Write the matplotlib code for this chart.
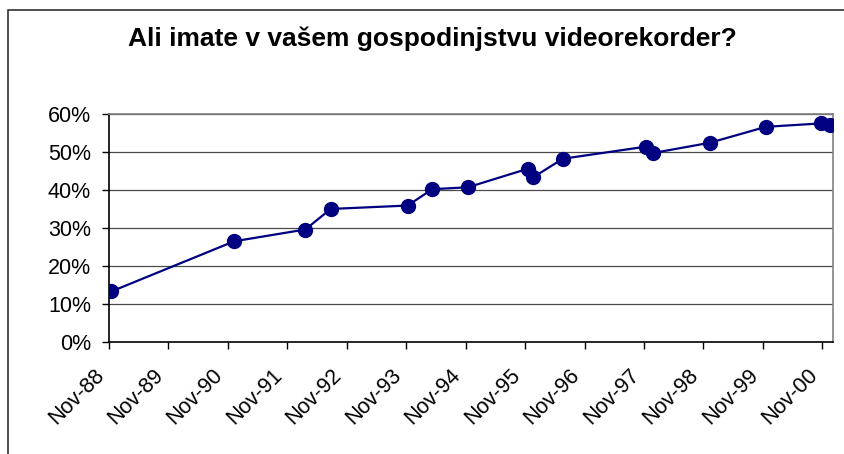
import matplotlib
matplotlib.use("Agg")
import matplotlib.pyplot as plt
import matplotlib.dates as mdates
import matplotlib.transforms as mtransforms
from matplotlib.ticker import FuncFormatter
from matplotlib.patches import Rectangle
import pandas as pd

plt.rcParams["font.family"] = ["Liberation Sans", "DejaVu Sans"]

# podatki, odčitani s slike
datumi = ["1988-11-15", "1990-12-10", "1992-02-20", "1992-07-25", "1993-11-10",
          "1994-04-10", "1994-11-15", "1995-11-20", "1995-12-20", "1996-06-20",
          "1997-11-15", "1997-12-25", "1998-12-10", "1999-11-20", "2000-10-25",
          "2000-12-15"]
delez = [13.2, 26.4, 29.5, 34.9, 35.8, 40.1, 40.6, 45.5, 43.2, 48.1,
         51.3, 49.6, 52.3, 56.5, 57.4, 56.9]
y_ticks = [0, 10, 20, 30, 40, 50, 60]

x = pd.to_datetime(datumi)

fig = plt.figure(figsize=(8.44, 4.54), dpi=100)
fig.patch.set_facecolor("white")

# okvir grafikona
fig.patches.append(Rectangle((8 / 844, -0.1), 1.0, 1 - 10 / 454 + 0.1,
                             transform=fig.transFigure, fill=False,
                             edgecolor="#202020", linewidth=1.1))

ax = fig.add_axes([109 / 844, 1 - 341.7 / 454, (833 - 109) / 844, (341.7 - 113.5) / 454])

for v in y_ticks[1:]:
    ax.axhline(v, color="#4a4a4a", linewidth=0.9, zorder=1)

ax.plot(x, delez, color="#000080", linewidth=1.6, marker="o",
        markersize=10, markerfacecolor="#000080", markeredgecolor="#000080", zorder=3)

ax.set_ylim(0, 60)
ax.set_yticks(y_ticks)
ax.yaxis.set_major_formatter(FuncFormatter(lambda v, p: f"{int(v)}%"))

ax.set_xlim(pd.Timestamp("1988-11-01"), pd.Timestamp("2001-01-05"))
ax.xaxis.set_major_locator(mdates.MonthLocator(bymonth=11, bymonthday=1))
ax.xaxis.set_major_formatter(mdates.DateFormatter("%b-%y"))

ax.tick_params(axis="both", direction="out", length=5, width=1, labelsize=15.5, colors="black")
ax.tick_params(axis="y", pad=8)
ax.tick_params(axis="x", pad=17)
zamik = mtransforms.ScaledTranslation(-8 / 100, 0, fig.dpi_scale_trans)
for lbl in ax.get_xticklabels():
    lbl.set_rotation(45)
    lbl.set_ha("right")
    lbl.set_va("center")
    lbl.set_rotation_mode("anchor")
    lbl.set_transform(lbl.get_transform() + zamik)

ax.spines["left"].set_color("black")
ax.spines["bottom"].set_color("black")
ax.spines["top"].set_color("#808080")
ax.spines["right"].set_color("#808080")
for s in ax.spines.values():
    s.set_linewidth(1.2)

fig.text(432 / 844, 1 - 39 / 454, "Ali imate v vašem gospodinjstvu videorekorder?",
         ha="center", va="center", fontsize=19, fontweight="bold")

fig.savefig("out.png", dpi=100)
